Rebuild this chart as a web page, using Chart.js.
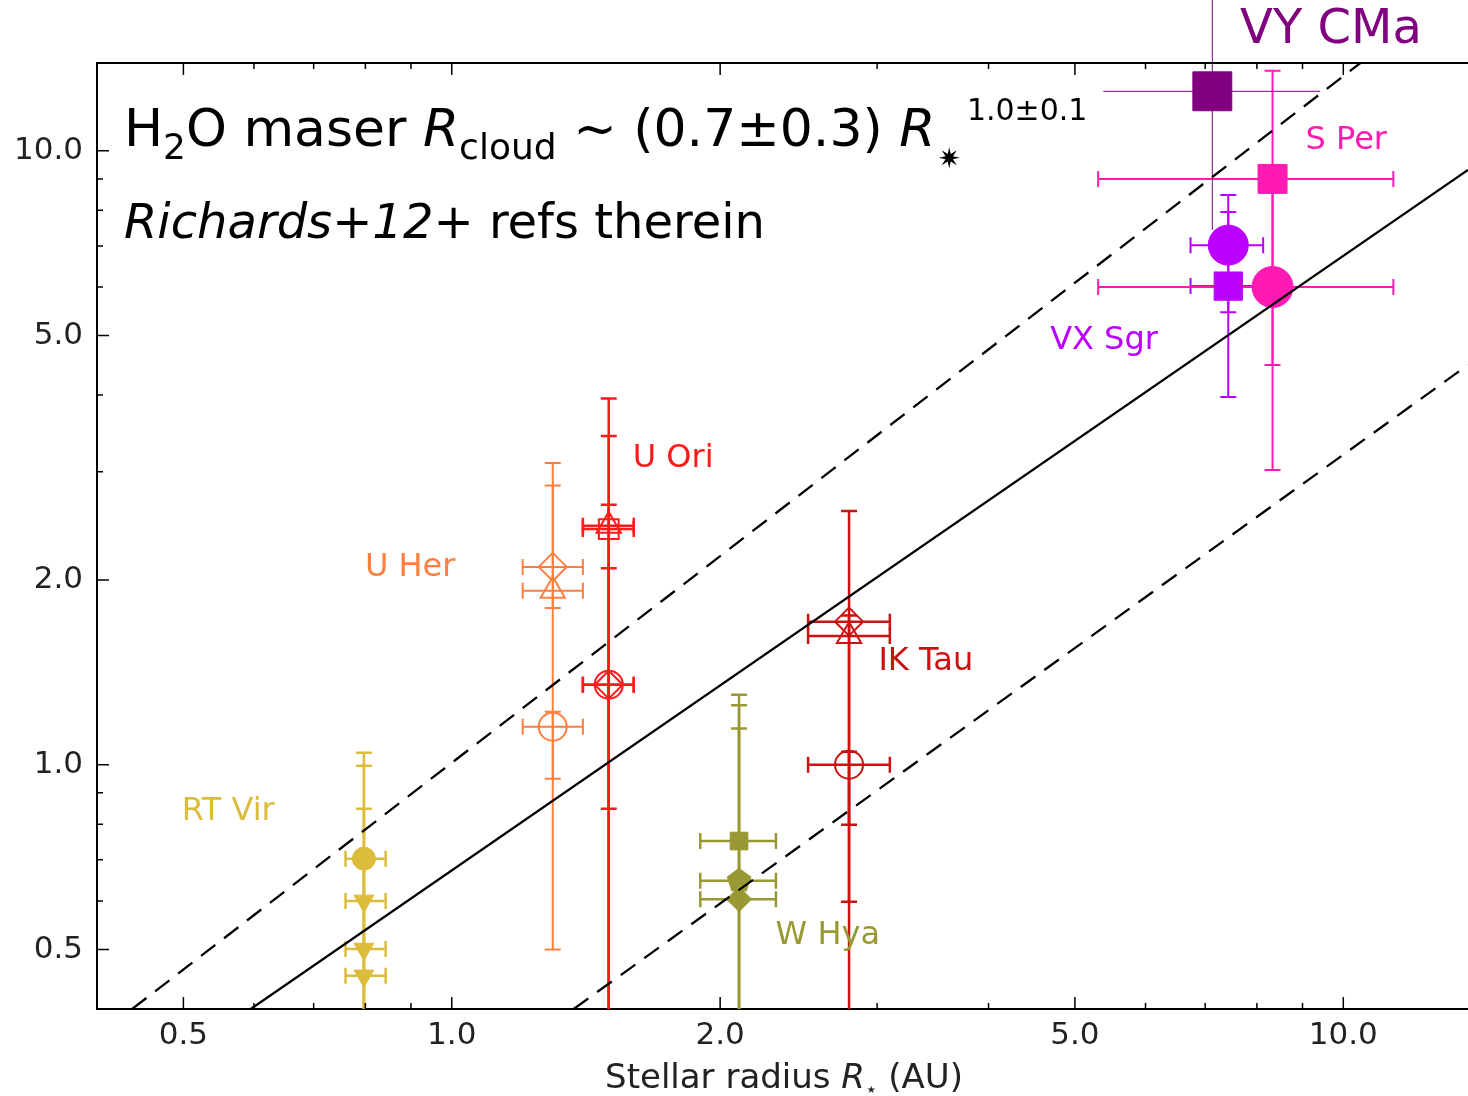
<!DOCTYPE html>
<html lang="en">
<head>
<meta charset="UTF-8">
<title>H2O maser cloud radius vs stellar radius</title>
<script src="https://cdn.jsdelivr.net/npm/chart.js"></script>
<style>
  html, body { margin: 0; padding: 0; background: #fff; overflow: hidden; }
  canvas { display: block; }
</style>
</head>
<body>
<canvas id="maserChart" width="1468" height="1096"></canvas>
<script>
// stellar radius (AU) of each star, with lower / upper limits
const starNames = ['RT Vir', 'U Her', 'U Ori', 'W Hya', 'IK Tau', 'VX Sgr', 'S Per', 'VY CMa'];
const starRadius = [0.797, 1.298, 1.50, 2.10, 2.79, 7.43, 8.33, 7.13];
const starRadiusLo = [0.760, 1.201, 1.403, 1.90, 2.51, 6.74, 5.31, 5.38];
const starRadiusHi = [0.843, 1.403, 1.60, 2.31, 3.10, 8.13, 11.38, 9.42];

// H2O maser cloud radius (AU): star index, value, lower / upper limit
const cloudStar = [0, 0, 0, 0, 1, 1, 1, 2, 2, 2, 2, 3, 3, 3, 4, 4, 4, 5, 5, 6, 6, 7];
const cloudRadius = [0.703, 0.600, 0.501, 0.453, 2.10, 1.92, 1.153, 2.42, 2.45, 1.35, 1.35,
  0.751, 0.647, 0.604, 1.71, 1.62, 1.00, 7.02, 6.02, 9.00, 6.00, 12.5];
const cloudLo = [0.35, 0.32, 0.28, 0.25, 0.949, 1.80, 0.50, 0.848, 0.30, 0.30, 0.32,
  0.30, 0.30, 0.30, 0.30, 0.798, 0.598, 3.97, 5.46, 4.48, 3.02, 7.43];
const cloudHi = [1.046, 0.996, 0.848, 0.70, 3.10, 2.85, 1.22, 3.95, 3.43, 2.65, 2.09,
  1.30, 1.25, 1.145, 2.59, 1.75, 1.05, 8.47, 7.95, 13.5, 8.8, 25];

// power-law fit and its limits, end points
const fitMidX = [0.595, 13.8];
const fitMidY = [0.40, 9.31];
const fitHighX = [0.438, 10.45];
const fitHighY = [0.40, 13.9];
const fitLowX = [1.37, 13.8];
const fitLowY = [0.40, 4.48];

// axis ticks
const majorTicks = [0.5, 1.0, 2.0, 5.0, 10.0];
const minorTicks = [0.6, 0.7, 0.8, 0.9, 3, 4, 6, 7, 8, 9];

// styling
const starColors = ['#dcbc3c', '#ff7f3f', '#ff1a1a', '#999933', '#cc1111', '#bb00ff', '#ff1ab3', '#800080'];
const starFilled = [true, false, false, true, false, true, true, true];
const starMarkerSize = [11.5, 14, 14, 12.5, 14, 20, 20.5, 27.5];
const starBarWidth = [2.5, 2, 2.5, 2.5, 2.5, 2, 2, 1];
const starCap = [8, 8, 8, 8, 8, 8, 8, 0];
const cloudMarker = ['circle', 'triDown', 'triDown', 'triDown',
  'rectRot', 'triangle', 'circle',
  'rect', 'triangle', 'circle', 'rectRot',
  'rect', 'pentagon', 'rectRot',
  'rectRot', 'triangle', 'circle',
  'circle', 'rect',
  'rect', 'circle',
  'rect'];
// label anchors (left edge, middle) in axis units
const labelAt = [[0.498, 0.838], [0.799, 2.096], [1.596, 3.157], [2.308, 0.526],
  [3.01, 1.472], [4.69, 4.90], [9.07, 10.38], [7.66, 15.7]];

const FONT = "'DejaVu Sans', 'Noto Sans', sans-serif";

function pentagon(r, color) {
  const c = document.createElement('canvas');
  c.width = c.height = 2 * r + 2;
  const g = c.getContext('2d');
  g.fillStyle = color;
  g.beginPath();
  for (let k = 0; k < 5; k++) {
    const a = -Math.PI / 2 + k * 2 * Math.PI / 5;
    g.lineTo(r + 1 + r * Math.cos(a), r + 1 + r * Math.sin(a));
  }
  g.closePath();
  g.fill();
  return c;
}
const pentagonImg = pentagon(13, starColors[3]);

function markerStyle(i) {
  const m = cloudMarker[i];
  if (m === 'triDown') return 'triangle';
  if (m === 'pentagon') return pentagonImg;
  return m;
}

// one scatter dataset per star
const starSets = starNames.map((name, s) => ({
  type: 'scatter',
  label: name,
  order: 1,
  data: cloudRadius.map((v, i) => ({ x: starRadius[cloudStar[i]], y: v, m: i }))
    .filter(p => cloudStar[p.m] === s),
  pointStyle: c => markerStyle(c.raw.m),
  rotation: c => cloudMarker[c.raw.m] === 'triDown' ? 180 : 0,
  pointRadius: starMarkerSize[s],
  borderColor: starColors[s],
  backgroundColor: starFilled[s] ? starColors[s] : 'rgba(255,255,255,0)',
  borderWidth: starFilled[s] ? 1 : 2
}));

function fitLine(xs, ys, dash) {
  return {
    type: 'line',
    order: 0,
    data: xs.map((v, i) => ({ x: v, y: ys[i] })),
    borderColor: '#000',
    borderWidth: 2.3,
    borderDash: dash,
    pointRadius: 0,
    fill: false
  };
}

const errorBars = {
  id: 'errorBars',
  beforeDatasetsDraw(chart) {
    const { ctx, chartArea: a, scales: { x, y } } = chart;
    ctx.save();
    ctx.beginPath();
    ctx.rect(a.left, 0, a.right - a.left, a.bottom);
    ctx.clip();
    cloudRadius.forEach((v, i) => {
      const s = cloudStar[i];
      const px = x.getPixelForValue(starRadius[s]);
      const py = y.getPixelForValue(v);
      const x0 = x.getPixelForValue(starRadiusLo[s]);
      const x1 = x.getPixelForValue(starRadiusHi[s]);
      const y0 = y.getPixelForValue(cloudLo[i]);
      const y1 = y.getPixelForValue(cloudHi[i]);
      const c = starCap[s];
      ctx.strokeStyle = starColors[s];
      ctx.lineWidth = starBarWidth[s];
      ctx.beginPath();
      ctx.moveTo(x0, py); ctx.lineTo(x1, py);
      ctx.moveTo(px, y0); ctx.lineTo(px, y1);
      if (c) {
        ctx.moveTo(x0, py - c); ctx.lineTo(x0, py + c);
        ctx.moveTo(x1, py - c); ctx.lineTo(x1, py + c);
        ctx.moveTo(px - c, y0); ctx.lineTo(px + c, y0);
        ctx.moveTo(px - c, y1); ctx.lineTo(px + c, y1);
      }
      ctx.stroke();
    });
    ctx.restore();
  }
};

// draws text pieces one after another, each with its own font and baseline shift
function drawRuns(ctx, runs, x, y) {
  runs.forEach(r => {
    ctx.font = r.f;
    ctx.fillText(r.t, x + (r.dx || 0), y + (r.dy || 0));
    x += ctx.measureText(r.t).width + (r.dx || 0);
  });
  return x;
}
function runsWidth(ctx, runs) {
  return runs.reduce((w, r) => { ctx.font = r.f; return w + ctx.measureText(r.t).width + (r.dx || 0); }, 0);
}

const frameAndText = {
  id: 'frameAndText',
  afterDraw(chart) {
    const { ctx, chartArea: a, scales: { x, y } } = chart;
    ctx.save();
    // top frame line
    ctx.strokeStyle = '#000';
    ctx.lineWidth = 2;
    ctx.beginPath();
    ctx.moveTo(a.left, a.top); ctx.lineTo(a.right, a.top);
    ctx.stroke();
    // inward tick marks
    ctx.lineWidth = 1.5;
    ctx.beginPath();
    const tick = (v, len) => {
      const px = x.getPixelForValue(v);
      if (px > a.left && px < a.right) {
        ctx.moveTo(px, a.bottom); ctx.lineTo(px, a.bottom - len);
        ctx.moveTo(px, a.top); ctx.lineTo(px, a.top + len);
      }
      const py = y.getPixelForValue(v);
      if (py > a.top && py < a.bottom) {
        ctx.moveTo(a.left, py); ctx.lineTo(a.left + len, py);
      }
    };
    majorTicks.forEach(v => tick(v, 12));
    minorTicks.forEach(v => tick(v, 6));
    ctx.stroke();

    // star names
    ctx.textBaseline = 'middle';
    ctx.textAlign = 'left';
    starNames.forEach((name, s) => {
      ctx.fillStyle = starColors[s];
      ctx.font = (s === 7 ? 48 : 32) + 'px ' + FONT;
      ctx.fillText(name, x.getPixelForValue(labelAt[s][0]), y.getPixelForValue(labelAt[s][1]));
    });

    // relation in the upper left
    ctx.textBaseline = 'alphabetic';
    ctx.fillStyle = '#000';
    const big = '52px ' + FONT, bigIt = 'italic 52px ' + FONT, sub = '36px ' + FONT;
    drawRuns(ctx, [
      { t: 'H', f: big }, { t: '2', f: sub, dy: 13 }, { t: 'O maser ', f: big },
      { t: 'R', f: bigIt }, { t: 'cloud', f: sub, dy: 13 },
      { t: ' ~ (0.7\u00b10.3) ', f: big }, { t: 'R', f: bigIt },
      { t: '\u2737', f: '28px ' + FONT, dy: 22, dx: 2 },
      { t: '1.0\u00b10.1', f: '30px ' + FONT, dy: -26, dx: 6 }
    ], 124, 146);
    drawRuns(ctx, [
      { t: 'Richards+12+', f: 'italic 48px ' + FONT }, { t: ' refs therein', f: '48px ' + FONT }
    ], 124, 238);

    // x axis title
    ctx.fillStyle = '#222';
    const xt = [
      { t: 'Stellar radius ', f: '34px ' + FONT }, { t: 'R', f: 'italic 34px ' + FONT },
      { t: '\u22c6', f: '20px ' + FONT, dy: 8 }, { t: ' (AU)', f: '34px ' + FONT }
    ];
    drawRuns(ctx, xt, 784 - runsWidth(ctx, xt) / 2, 1088);
    ctx.restore();
  }
};

const tickFont = { family: FONT, size: 31 };

// keep the plot box fixed: no extra room for overhanging tick labels
function noLabelPadding(s) {
  s.paddingLeft = 0;
  s.paddingRight = 0;
  s.paddingTop = 0;
  s.paddingBottom = 0;
}

new Chart(document.getElementById('maserChart'), {
  data: {
    datasets: [
      ...starSets,
      fitLine(fitMidX, fitMidY, []),
      fitLine(fitHighX, fitHighY, [18, 11]),
      fitLine(fitLowX, fitLowY, [18, 11])
    ]
  },
  options: {
    responsive: false,
    animation: false,
    events: [],
    layout: { autoPadding: false, padding: { top: 63, right: 0, bottom: 0, left: 0 } },
    plugins: {
      legend: { display: false },
      tooltip: { enabled: false }
    },
    scales: {
      x: {
        type: 'logarithmic',
        position: 'bottom',
        min: 0.4,
        max: 13.8,
        afterBuildTicks: s => { s.ticks = majorTicks.map(v => ({ value: v })); },
        afterFit: s => { s.height = 87; noLabelPadding(s); },
        ticks: {
          callback: v => Number(v).toFixed(1),
          font: tickFont,
          color: '#222',
          padding: 8,
          maxRotation: 0,
          autoSkip: false
        },
        grid: { display: false, drawTicks: false },
        border: { display: true, color: '#000', width: 2 }
      },
      y: {
        type: 'logarithmic',
        position: 'left',
        min: 0.4,
        max: 13.9,
        afterBuildTicks: s => { s.ticks = majorTicks.map(v => ({ value: v })); },
        afterFit: s => { s.width = 97; noLabelPadding(s); },
        ticks: {
          callback: v => Number(v).toFixed(1),
          font: tickFont,
          color: '#222',
          padding: 14,
          autoSkip: false
        },
        grid: { display: false, drawTicks: false },
        border: { display: true, color: '#000', width: 2 }
      }
    }
  },
  plugins: [errorBars, frameAndText]
});
</script>
</body>
</html>
